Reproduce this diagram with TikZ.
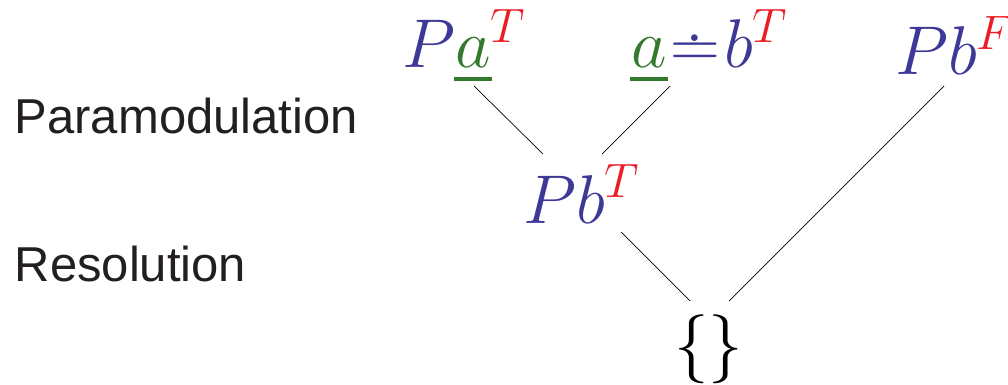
\RequirePackage{fix-cm}
\documentclass[tikz,border=0pt]{standalone}
\usepackage{fontspec}
\newfontfamily\labelsans{Liberation Sans}
\usetikzlibrary{calc}
\definecolor{clblue}{RGB}{62,56,150}
\definecolor{clgreen}{RGB}{52,122,46}
\definecolor{clred}{RGB}{236,28,36}
\definecolor{cltext}{RGB}{35,31,32}
\newcommand{\ul}[1]{\mathord{\textcolor{clgreen}{\rlap{\kern-1.5pt\rule[-13pt]{38pt}{4pt}}\ensuremath{#1}}}}
\begin{document}
\begin{tikzpicture}[x=1pt,y=-1pt,
  formula/.style={inner sep=0pt,anchor=base west,text=clblue,
    font=\fontsize{69}{80}\selectfont},
  rulelabel/.style={inner sep=0pt,anchor=base west,text=cltext,
    font=\labelsans\fontsize{49}{56}\selectfont},
  edge/.style={draw=black,line width=0.7pt}]
\useasboundingbox (0,0) rectangle (1008,385);
\clip (0,0) rectangle (1008,385);

\node[rulelabel] (lpara) at (14.5,133) {Paramodulation};
\node[rulelabel] (lres)  at (14.5,281) {Resolution};

\node[formula] (paT) at (402,68) {$P\ul{a}^{\textcolor{clred}{T}}$};
\node[formula] (eqT) at (631,68) {$\ul{a}\mkern1mu{\doteq}\mkern1mu b^{\textcolor{clred}{T}}$};
\node[formula] (pbF) at (895,75) {$Pb^{\textcolor{clred}{F}}$};
\node[formula] (pbT) at (523,223) {$Pb^{\textcolor{clred}{T}}$};
\node[formula,text=black] (empty) at (674,366) {$\{\}$};

% fragment of a green glyph cut off at the top edge
\draw[clgreen,line width=3pt] (651,-3) arc[start angle=180,end angle=360,x radius=10.5,y radius=6];

\draw[edge] ($(paT.base west)+(72,18)$) -- ($(pbT.base west)+(20,-69)$);
\draw[edge] ($(eqT.base west)+(39,18)$) -- ($(pbT.base west)+(79,-69)$);
\draw[edge] ($(pbT.base west)+(98,9)$) -- ($(empty.base west)+(16,-65)$);
\draw[edge] ($(pbF.base west)+(49,11)$) -- ($(empty.base west)+(55,-65)$);
\end{tikzpicture}
\end{document}
